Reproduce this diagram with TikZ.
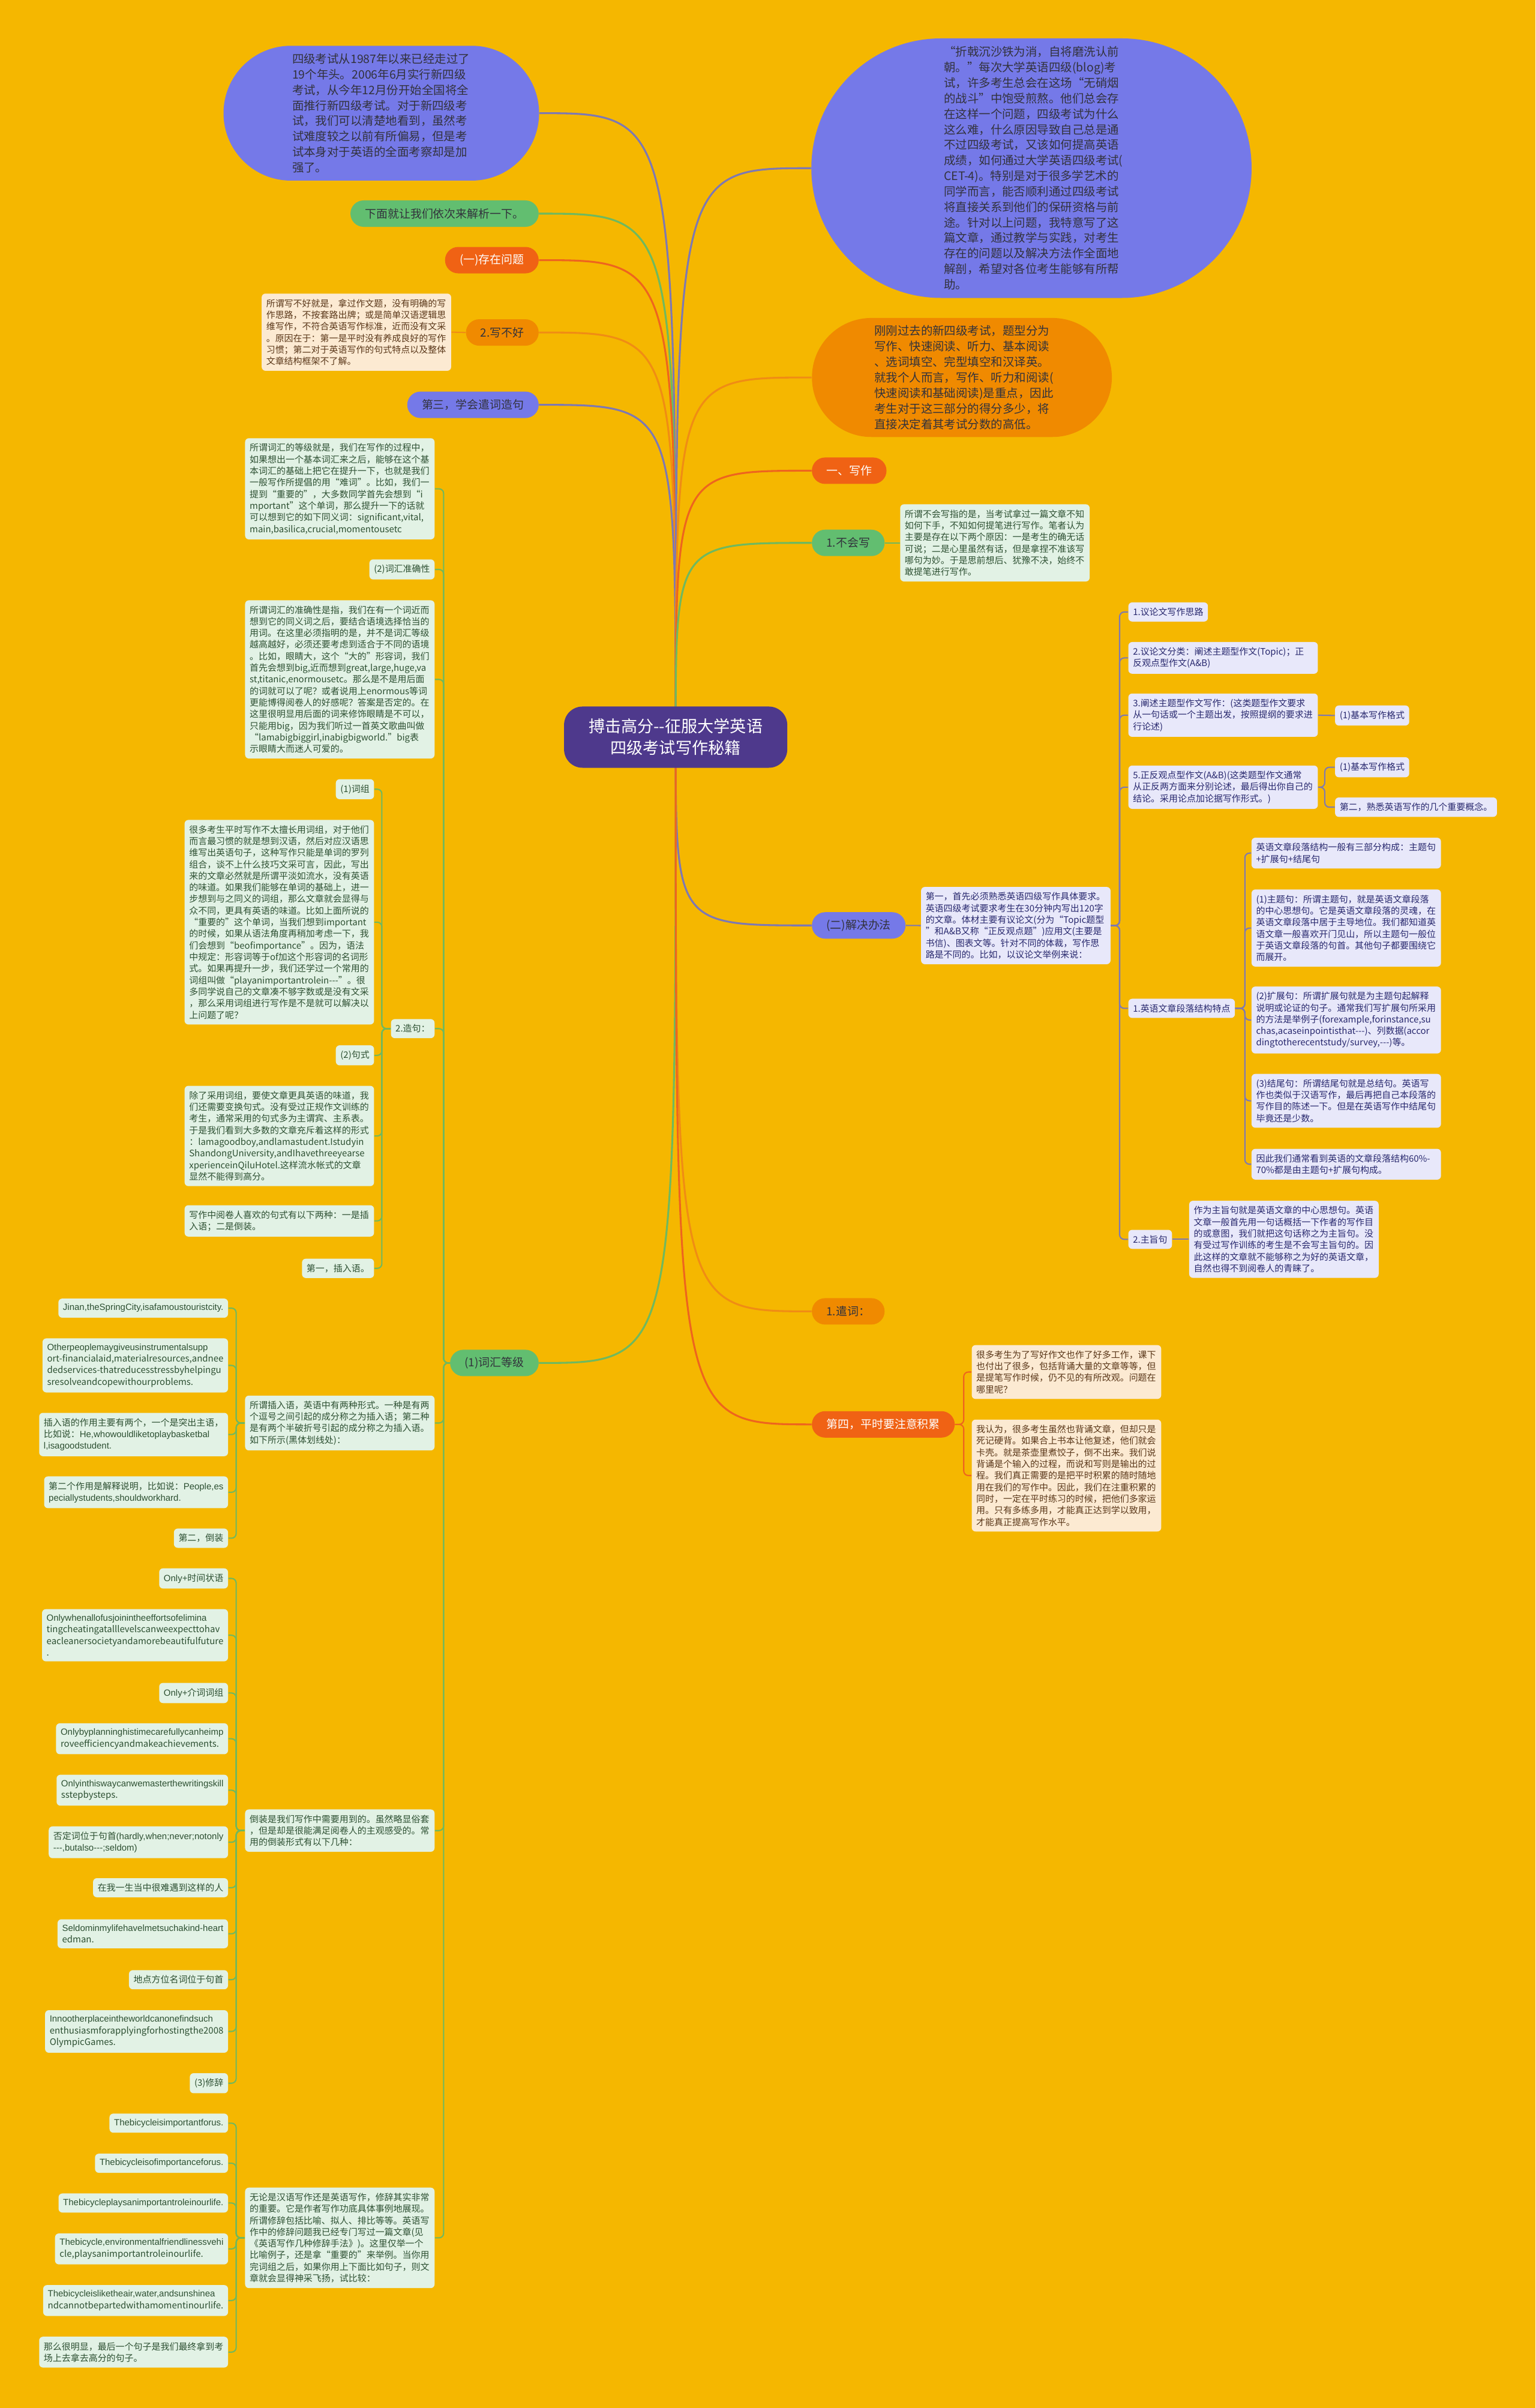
\documentclass[tikz,border=0pt]{standalone}
\usepackage{fontspec}
\setmainfont{Noto Sans CJK SC}
\newfontfamily\enfont{Liberation Sans}
\usepackage{tikz}
\usetikzlibrary{positioning, backgrounds, calc}
\definecolor{bgyellow}{RGB}{245,183,0}
\definecolor{bubblepurple}{RGB}{117,121,232}
\definecolor{bubbleorange}{RGB}{240,138,0}
\definecolor{rootpurple}{RGB}{78,57,140}
\definecolor{pillgreen}{RGB}{98,190,112}
\definecolor{pillred}{RGB}{240,98,20}
\definecolor{pillorange}{RGB}{240,138,0}
\definecolor{notegreen}{RGB}{226,242,229}
\definecolor{notelav}{RGB}{232,232,250}
\definecolor{notecream}{RGB}{252,234,210}
\definecolor{textgreen}{RGB}{45,80,50}
\definecolor{textnavy}{RGB}{40,40,110}
\definecolor{textbrown}{RGB}{90,55,25}
\definecolor{textdark}{RGB}{50,50,60}
\definecolor{linegreen}{RGB}{110,185,95}
\definecolor{linepurple}{RGB}{125,120,180}
\definecolor{linered}{RGB}{238,100,30}
\definecolor{lineorange}{RGB}{240,140,20}
\hyphenpenalty=10000
\exhyphenpenalty=10000

\begin{document}
\begin{tikzpicture}[
  x=1pt, y=-1pt,
  pill/.style={
    rectangle, rounded corners=8.6pt,
    minimum height=17.2pt, inner xsep=9.5pt, inner ysep=0pt,
    font=\fontsize{7.4}{8.5}\selectfont,
  },
  bubble/.style={
    rectangle, align=left, inner sep=0pt,
    font=\fontsize{7.6}{10.1}\selectfont,
  },
  note/.style={
    rectangle, rounded corners=2.5pt,
    align=left, inner xsep=3pt, inner ysep=3.5pt,
    font=\fontsize{5.85}{7.55}\selectfont,
  },
  widenote/.style={note, text width=117.4pt},
  greennote/.style={fill=notegreen, text=textgreen},
  lavnote/.style={fill=notelav, text=textnavy},
  creamnote/.style={fill=notecream, text=textbrown},
  branch/.style={line width=1.2pt},
  twig/.style={line width=0.8pt, rounded corners=3pt},
]
\useasboundingbox (0,0) rectangle (1000,1568);

% ── ROOT ─────────────────────────────────────────────────────────────────────
\node[fill=rootpurple, text=white, rounded corners=12pt, align=center,
      inner xsep=16pt, inner ysep=8pt, font=\fontsize{10.6}{14}\selectfont]
  (root) at (440,480) {搏击高分-{}-征服大学英语\\四级考试写作秘籍};

% ── LEFT: first level ────────────────────────────────────────────────────────
\node[bubble, fill=bubblepurple, text=textdark, text width=116pt,
      minimum width=205.5pt, minimum height=87.8pt, rounded corners=43.9pt]
  (introL) at (248.3,73.7)
  {四级考试从1987年以来已经走过了\\19个年头。2006年6月实行新四级\\考试，从今年12月份开始全国将全\\面推行新四级考试。对于新四级考\\试，我们可以清楚地看到，虽然考\\试难度较之以前有所偏易，但是考\\试本身对于英语的全面考察却是加\\强了。};

\node[pill, fill=pillgreen, text=textdark, anchor=east] (nextStep) at (351,139.1)
  {下面就让我们依次来解析一下。};
\node[pill, fill=pillred, text=white, anchor=east] (problems) at (351,169.4)
  {(一)存在问题};
\node[pill, fill=pillorange, text=textdark, anchor=east] (badWrite) at (351,216.5)
  {2.写不好};
\node[pill, fill=bubblepurple, text=textdark, anchor=east] (thirdStep) at (351,263.6)
  {第三，学会遣词造句};
\node[pill, fill=pillgreen, text=textdark, anchor=east] (vocabLevel) at (351,887.5)
  {(1)词汇等级};

% ── 写不好
\node[widenote, creamnote, anchor=east] (badWriteTxt) at (294,216.3)
  {所谓写不好就是，拿过作文题，没有明确的写\\作思路，不按套路出牌；或是简单汉语逻辑思\\维写作，不符合英语写作标准，近而没有文采\\。原因在于：第一是平时没有养成良好的写作\\习惯；第二对于英语写作的句式特点以及整体\\文章结构框架不了解。};

% ── 词汇等级 children
\node[widenote, greennote, anchor=east] (levelTxt) at (283.2,318.3)
  {所谓词汇的等级就是，我们在写作的过程中，\\如果想出一个基本词汇来之后，能够在这个基\\本词汇的基础上把它在提升一下，也就是我们\\一般写作所提倡的用“难词”。比如，我们一\\提到“重要的”，大多数同学首先会想到“i\\mportant”这个单词，那么提升一下的话就\\可以想到它的如下同义词：significant,vital,\\main,basilica,crucial,momentousetc};
\node[note, greennote, anchor=east] (accuracy) at (283.2,370.8) {(2)词汇准确性};
\node[widenote, greennote, anchor=east] (accuracyTxt) at (283.2,442.4)
  {所谓词汇的准确性是指，我们在有一个词近而\\想到它的同义词之后，要结合语境选择恰当的\\用词。在这里必须指明的是，并不是词汇等级\\越高越好，必须还要考虑到适合于不同的语境\\。比如，眼睛大，这个“大的”形容词，我们\\首先会想到big,近而想到great,large,huge,va\\st,titanic,enormousetc。那么是不是用后面\\的词就可以了呢？或者说用上enormous等词\\更能博得阅卷人的好感呢？答案是否定的。在\\这里很明显用后面的词来修饰眼睛是不可以，\\只能用big，因为我们听过一首英文歌曲叫做\\“lamabigbiggirl,inabigbigworld.”big表\\示眼睛大而迷人可爱的。};
\node[note, greennote, anchor=east] (sentence) at (283.2,669.8) {2.造句：};
\node[widenote, greennote, anchor=east] (parenthesisTxt) at (283.2,926.6)
  {所谓插入语，英语中有两种形式。一种是有两\\个逗号之间引起的成分称之为插入语；第二种\\是有两个半破折号引起的成分称之为插入语。\\如下所示(黑体划线处)：};
\node[widenote, greennote, anchor=east] (inversionTxt) at (283.2,1192)
  {倒装是我们写作中需要用到的。虽然略显俗套\\，但是却是很能满足阅卷人的主观感受的。常\\用的倒装形式有以下几种：};
\node[widenote, greennote, anchor=east] (rhetoricTxt) at (283.2,1457.2)
  {无论是汉语写作还是英语写作，修辞其实非常\\的重要。它是作者写作功底具体事例地展现。\\所谓修辞包括比喻、拟人、排比等等。英语写\\作中的修辞问题我已经专门写过一篇文章(见\\《英语写作几种修辞手法》)。这里仅举一个\\比喻例子，还是拿“重要的”来举例。当你用\\完词组之后，如果你用上下面比如句子，则文\\章就会显得神采飞扬，试比较：};

% ── 造句 children
\node[note, greennote, anchor=east] (phrase) at (243.8,513.9) {(1)词组};
\node[widenote, greennote, anchor=east] (phraseTxt) at (243.8,600.5)
  {很多考生平时写作不太擅长用词组，对于他们\\而言最习惯的就是想到汉语，然后对应汉语思\\维写出英语句子，这种写作只能是单词的罗列\\组合，谈不上什么技巧文采可言，因此，写出\\来的文章必然就是所谓平淡如流水，没有英语\\的味道。如果我们能够在单词的基础上，进一\\步想到与之同义的词组，那么文章就会显得与\\众不同，更具有英语的味道。比如上面所说的\\“重要的”这个单词，当我们想到important\\的时候，如果从语法角度再稍加考虑一下，我\\们会想到“beofimportance”。因为，语法\\中规定：形容词等于of加这个形容词的名词形\\式。如果再提升一步，我们还学过一个常用的\\词组叫做“playanimportantrolein-{}-{}-”。很\\多同学说自己的文章凑不够字数或是没有文采\\，那么采用词组进行写作是不是就可以解决以\\上问题了呢？};
\node[note, greennote, anchor=east] (pattern) at (243.8,687.2) {(2)句式};
\node[widenote, greennote, anchor=east] (patternTxt) at (243.8,739.7)
  {除了采用词组，要使文章更具英语的味道，我\\们还需要变换句式。没有受过正规作文训练的\\考生，通常采用的句式多为主谓宾、主系表。\\于是我们看到大多数的文章充斥着这样的形式\\：lamagoodboy,andlamastudent.Istudyin\\ShandongUniversity,andIhavethreeyearse\\xperienceinQiluHotel.这样流水帐式的文章\\显然不能得到高分。};
\node[widenote, greennote, anchor=east] (favourTxt) at (243.8,795)
  {写作中阅卷人喜欢的句式有以下两种：一是插\\入语；二是倒装。};
\node[note, greennote, anchor=east] (firstIns) at (243.8,825.9) {第一，插入语。};

% ── 插入语 examples
\node[note, greennote, anchor=east] (exJinan) at (148.7,851.8)
  {\enfont Jinan,theSpringCity,isafamoustouristcity.};
\node[note, greennote, anchor=east] (exOther) at (148.7,889.1)
  {\enfont Otherpeoplemaygiveusinstrumentalsupp\\ort-financialaid,materialresources,andnee\\dedservices-thatreducesstressbyhelpingu\\sresolveandcopewithourproblems.};
\node[note, greennote, anchor=east] (exRole) at (148.7,934.1)
  {插入语的作用主要有两个，一个是突出主语，\\比如说：{\enfont He,whowouldliketoplaybasketbal}\\{\enfont l,isagoodstudent.}};
\node[note, greennote, anchor=east] (exSecond) at (148.7,971.7)
  {第二个作用是解释说明，比如说：{\enfont People,es}\\{\enfont peciallystudents,shouldworkhard.}};
\node[note, greennote, anchor=east] (secondInv) at (148.7,1001.6) {第二，倒装};

% ── 倒装 examples
\node[note, greennote, anchor=east] (onlyTime) at (148.7,1027.8) {{\enfont Only+}时间状语};
\node[note, greennote, anchor=east] (exOnlyWhen) at (148.7,1064.8)
  {\enfont Onlywhenallofusjoinintheeffortsofelimina\\tingcheatingatalllevelscanweexpecttohav\\eacleanersocietyandamorebeautifulfuture\\.};
\node[note, greennote, anchor=east] (onlyPrep) at (148.7,1102.4) {{\enfont Only+}介词词组};
\node[note, greennote, anchor=east] (exOnlyBy) at (148.7,1132.2)
  {\enfont Onlybyplanninghistimecarefullycanheimp\\roveefficiencyandmakeachievements.};
\node[note, greennote, anchor=east] (exOnlyIn) at (148.7,1165.7)
  {\enfont Onlyinthiswaycanwemasterthewritingskill\\sstepbysteps.};
\node[note, greennote, anchor=east] (negFront) at (148.7,1199.6)
  {否定词位于句首{\enfont (hardly,when;never;notonly}\\{\enfont -{}-{}-,butalso-{}-{}-;seldom)}};
\node[note, greennote, anchor=east] (cnSeldom) at (148.7,1229.2) {在我一生当中很难遇到这样的人};
\node[note, greennote, anchor=east] (exSeldom) at (148.7,1259.2)
  {\enfont Seldominmylifehavelmetsuchakind-heart\\edman.};
\node[note, greennote, anchor=east] (placeFront) at (148.7,1289.1) {地点方位名词位于句首};
\node[note, greennote, anchor=east] (exNoOther) at (148.7,1322.8)
  {\enfont Innootherplaceintheworldcanonefindsuch\\enthusiasmforapplyingforhostingthe2008\\OlympicGames.};
\node[note, greennote, anchor=east] (rhetoric) at (148.7,1356.5) {(3)修辞};

% ── 修辞 examples
\node[note, greennote, anchor=east] (bikeA) at (148.7,1382.5)
  {\enfont Thebicycleisimportantforus.};
\node[note, greennote, anchor=east] (bikeB) at (148.7,1408.6)
  {\enfont Thebicycleisofimportanceforus.};
\node[note, greennote, anchor=east] (bikeC) at (148.7,1434.5)
  {\enfont Thebicycleplaysanimportantroleinourlife.};
\node[note, greennote, anchor=east] (bikeD) at (148.7,1464.4)
  {\enfont Thebicycle,environmentalfriendlinessvehi\\cle,playsanimportantroleinourlife.};
\node[note, greennote, anchor=east] (bikeE) at (148.7,1498)
  {\enfont Thebicycleisliketheair,water,andsunshinea\\ndcannotbepartedwithamomentinourlife.};
\node[note, greennote, anchor=east] (conclusion) at (148.7,1531.6)
  {那么很明显，最后一个句子是我们最终拿到考\\场上去拿去高分的句子。};

% ── RIGHT: first level ───────────────────────────────────────────────────────
\node[bubble, fill=bubblepurple, text=textdark, text width=114pt,
      minimum width=286.7pt, minimum height=169pt, rounded corners=84.5pt]
  (introR) at (671.7,109.5)
  {“折戟沉沙铁为消，自将磨洗认前\\朝。”每次大学英语四级(blog)考\\试，许多考生总会在这场“无硝烟\\的战斗”中饱受煎熬。他们总会存\\在这样一个问题，四级考试为什么\\这么难，什么原因导致自己总是通\\不过四级考试，又该如何提高英语\\成绩，如何通过大学英语四级考试(\\CET-4)。特别是对于很多学艺术的\\同学而言，能否顺利通过四级考试\\将直接关系到他们的保研资格与前\\途。针对以上问题，我特意写了这\\篇文章，通过教学与实践，对考生\\存在的问题以及解决方法作全面地\\解剖，希望对各位考生能够有所帮\\助。};

\node[bubble, fill=bubbleorange, text=textdark, text width=114pt,
      minimum width=195.3pt, minimum height=77.5pt, rounded corners=38.7pt]
  (examR) at (626.4,245.8)
  {刚刚过去的新四级考试，题型分为\\写作、快速阅读、听力、基本阅读\\、选词填空、完型填空和汉译英。\\就我个人而言，写作、听力和阅读(\\快速阅读和基础阅读)是重点，因此\\考生对于这三部分的得分多少，将\\直接决定着其考试分数的高低。};

\node[pill, fill=pillred, text=white, anchor=west] (writing) at (528.5,306.5) {一、写作};
\node[pill, fill=pillgreen, text=textdark, anchor=west] (cannotWrite) at (528.5,353.5) {1.不会写};
\node[pill, fill=bubblepurple, text=textdark, anchor=west] (solution) at (528.5,602.6) {(二)解决办法};
\node[pill, fill=pillorange, text=textdark, anchor=west] (wordChoice) at (528.5,853.9) {1.遣词：};
\node[pill, fill=pillred, text=white, anchor=west] (accumulate) at (528.5,927.5) {第四，平时要注意积累};

% ── 不会写
\node[widenote, greennote, anchor=west] (cannotTxt) at (586,353.5)
  {所谓不会写指的是，当考试拿过一篇文章不知\\如何下手，不知如何提笔进行写作。笔者认为\\主要是存在以下两个原因：一是考生的确无话\\可说；二是心里虽然有话，但是拿捏不准该写\\哪句为妙。于是思前想后、犹豫不决，始终不\\敢提笔进行写作。};

% ── 解决办法
\node[widenote, lavnote, anchor=west] (solutionTxt) at (599.6,602.7)
  {第一，首先必须熟悉英语四级写作具体要求。\\英语四级考试要求考生在30分钟内写出120字\\的文章。体材主要有议论文(分为“Topic题型\\”和A\&B又称“正反观点题”)应用文(主要是\\书信)、图表文等。针对不同的体裁，写作思\\路是不同的。比如，以议论文举例来说：};

\node[note, lavnote, anchor=west] (argIdea) at (734.6,398.5) {1.议论文写作思路};
\node[widenote, lavnote, anchor=west] (argType) at (734.6,428.4)
  {2.议论文分类：阐述主题型作文(Topic)；正\\反观点型作文(A\&B)};
\node[widenote, lavnote, anchor=west] (topicWrite) at (734.6,465.7)
  {3.阐述主题型作文写作：(这类题型作文要求\\从一句话或一个主题出发，按照提纲的要求进\\行论述)};
\node[note, lavnote, anchor=west] (basicA) at (869.2,465.9) {(1)基本写作格式};
\node[widenote, lavnote, anchor=west] (abWrite) at (734.6,512.6)
  {5.正反观点型作文(A\&B)(这类题型作文通常\\从正反两方面来分别论述，最后得出你自己的\\结论。采用论点加论据写作形式。)};
\node[note, lavnote, anchor=west] (basicB) at (869.2,499.6) {(1)基本写作格式};
\node[note, lavnote, anchor=west] (secondConcept) at (869.2,525.6) {第二，熟悉英语写作的几个重要概念。};
\node[note, lavnote, anchor=west] (paraStruct) at (734.6,656.6) {1.英语文章段落结构特点};

\node[widenote, lavnote, anchor=west] (structTxt) at (814.8,555.5)
  {英语文章段落结构一般有三部分构成：主题句\\+扩展句+结尾句};
\node[widenote, lavnote, anchor=west] (topicSent) at (814.8,604.3)
  {(1)主题句：所谓主题句，就是英语文章段落\\的中心思想句。它是英语文章段落的灵魂，在\\英语文章段落中居于主导地位。我们都知道英\\语文章一般喜欢开门见山，所以主题句一般位\\于英语文章段落的句首。其他句子都要围绕它\\而展开。};
\node[widenote, lavnote, anchor=west] (expandSent) at (814.8,664.2)
  {(2)扩展句：所谓扩展句就是为主题句起解释\\说明或论证的句子。通常我们写扩展句所采用\\的方法是举例子(forexample,forinstance,su\\chas,acaseinpointisthat-{}-{}-)、列数据(accor\\dingtotherecentstudy/survey,-{}-{}-)等。};
\node[widenote, lavnote, anchor=west] (endSent) at (814.8,716.8)
  {(3)结尾句：所谓结尾句就是总结句。英语写\\作也类似于汉语写作，最后再把自己本段落的\\写作目的陈述一下。但是在英语写作中结尾句\\毕竟还是少数。};
\node[widenote, lavnote, anchor=west] (ratioTxt) at (814.8,758.1)
  {因此我们通常看到英语的文章段落结构60\%-\\70\%都是由主题句+扩展句构成。};

\node[note, lavnote, anchor=west] (mainIdea) at (734.6,807) {2.主旨句};
\node[widenote, lavnote, anchor=west] (mainIdeaTxt) at (774.2,807)
  {作为主旨句就是英语文章的中心思想句。英语\\文章一般首先用一句话概括一下作者的写作目\\的或意图，我们就把这句话称之为主旨句。没\\有受过写作训练的考生是不会写主旨句的。因\\此这样的文章就不能够称之为好的英语文章，\\自然也得不到阅卷人的青睐了。};

% ── 第四
\node[widenote, creamnote, anchor=west] (accumTxtA) at (632.6,893.4)
  {很多考生为了写好作文也作了好多工作，课下\\也付出了很多，包括背诵大量的文章等等，但\\是提笔写作时候，仍不见的有所改观。问题在\\哪里呢？};
\node[widenote, creamnote, anchor=west] (accumTxtB) at (632.6,960.8)
  {我认为，很多考生虽然也背诵文章，但却只是\\死记硬背。如果合上书本让他复述，他们就会\\卡壳。就是茶壶里煮饺子，倒不出来。我们说\\背诵是个输入的过程，而说和写则是输出的过\\程。我们真正需要的是把平时积累的随时随地\\用在我们的写作中。因此，我们在注重积累的\\同时，一定在平时练习的时候，把他们多家运\\用。只有多练多用，才能真正达到学以致用，\\才能真正提高写作水平。};

% ── Connectors
\begin{pgfonlayer}{background}
  \fill[bgyellow] (0,0) rectangle (1000,1568);

  % root -> left
  \draw[branch, linepurple] (root.center) .. controls (root.center |- introL.east) .. (introL.east);
  \draw[branch, linegreen] (root.center) .. controls (root.center |- nextStep.east) .. (nextStep.east);
  \draw[branch, linered] (root.center) .. controls (root.center |- problems.east) .. (problems.east);
  \draw[branch, lineorange] (root.center) .. controls (root.center |- badWrite.east) .. (badWrite.east);
  \draw[branch, linepurple] (root.center) .. controls (root.center |- thirdStep.east) .. (thirdStep.east);
  \draw[branch, linegreen] (root.center) .. controls (root.center |- vocabLevel.east) .. (vocabLevel.east);

  % root -> right
  \draw[branch, linepurple] (root.center) .. controls (root.center |- introR.west) .. (introR.west);
  \draw[branch, lineorange] (root.center) .. controls (root.center |- examR.west) .. (examR.west);
  \draw[branch, linered] (root.center) .. controls (root.center |- writing.west) .. (writing.west);
  \draw[branch, linegreen] (root.center) .. controls (root.center |- cannotWrite.west) .. (cannotWrite.west);
  \draw[branch, linepurple] (root.center) .. controls (root.center |- solution.west) .. (solution.west);
  \draw[branch, lineorange] (root.center) .. controls (root.center |- wordChoice.west) .. (wordChoice.west);
  \draw[branch, linered] (root.center) .. controls (root.center |- accumulate.west) .. (accumulate.west);

  % second level and below
  \draw[twig, lineorange] (badWrite.west) -- (badWriteTxt.east);
  \draw[twig, linegreen] (cannotWrite.east) -- (cannotTxt.west);
  \draw[twig, linepurple] (solution.east) -- (solutionTxt.west);

  \foreach \kid in {levelTxt, accuracy, accuracyTxt, sentence, parenthesisTxt, inversionTxt, rhetoricTxt}
    \draw[twig, linegreen] (vocabLevel.west) -- ++(-4,0) |- (\kid.east);
  \foreach \kid in {phrase, phraseTxt, pattern, patternTxt, favourTxt, firstIns}
    \draw[twig, linegreen] (sentence.west) -- ++(-5.7,0) |- (\kid.east);
  \foreach \kid in {exJinan, exOther, exRole, exSecond, secondInv}
    \draw[twig, linegreen] (parenthesisTxt.west) -- ++(-5.6,0) |- (\kid.east);
  \foreach \kid in {onlyTime, exOnlyWhen, onlyPrep, exOnlyBy, exOnlyIn, negFront, cnSeldom, exSeldom, placeFront, exNoOther, rhetoric}
    \draw[twig, linegreen] (inversionTxt.west) -- ++(-5.6,0) |- (\kid.east);
  \foreach \kid in {bikeA, bikeB, bikeC, bikeD, bikeE, conclusion}
    \draw[twig, linegreen] (rhetoricTxt.west) -- ++(-5.6,0) |- (\kid.east);

  \foreach \kid in {argIdea, argType, topicWrite, abWrite, paraStruct, mainIdea}
    \draw[twig, linepurple] (solutionTxt.east) -- ++(5.7,0) |- (\kid.west);
  \draw[twig, linepurple] (topicWrite.east) -- (basicA.west);
  \foreach \kid in {basicB, secondConcept}
    \draw[twig, linepurple] (abWrite.east) -- ++(4.3,0) |- (\kid.west);
  \foreach \kid in {structTxt, topicSent, expandSent, endSent, ratioTxt}
    \draw[twig, linepurple] (paraStruct.east) -- ++(6.3,0) |- (\kid.west);
  \draw[twig, linepurple] (mainIdea.east) -- (mainIdeaTxt.west);

  \foreach \kid in {accumTxtA, accumTxtB}
    \draw[twig, linered] (accumulate.east) -- ++(5.7,0) |- (\kid.west);
\end{pgfonlayer}

\end{tikzpicture}
\end{document}
